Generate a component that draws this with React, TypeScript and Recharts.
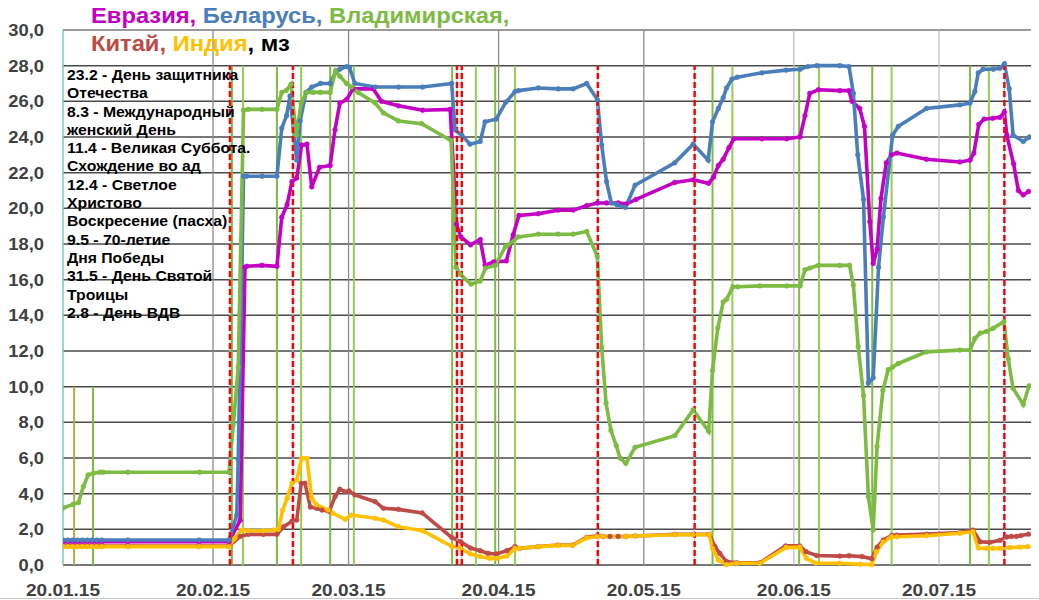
import React from 'react';
import { LineChart, Line, XAxis, YAxis, CartesianGrid, ReferenceLine } from 'recharts';

// x values are days counted from 20.01.2015
const tickDays = [0, 31, 59, 90, 120, 151, 181];
const tickLabels = ['20.01.15', '20.02.15', '20.03.15', '20.04.15', '20.05.15', '20.06.15', '20.07.15'];
const yTicks = [0, 2, 4, 6, 8, 10, 12, 14, 16, 18, 20, 22, 24, 26, 28, 30];

const eurasia: [number, number][] = [
  [0, 1.3], [1, 1.3], [2, 1.3], [3, 1.3], [4, 1.3], [5, 1.3], [6, 1.3], [7, 1.3], [8, 1.3], [13.4, 1.3], [28.1, 1.3], [34.3, 1.3],
  [36.6, 2.5], [37.6, 16.7], [38.0, 16.75], [41.1, 16.8], [44.2, 16.75], [45.2, 19.5], [46.3, 20.2], [47.3, 21.5], [48.3, 21.7],
  [49.3, 23.55], [50.4, 23.6], [51.4, 21.2], [53.0, 22.3], [55.2, 22.4], [56.2, 24.4], [57.2, 25.9], [58.6, 26.1], [59.9, 26.7],
  [64.1, 26.7], [65.8, 26.0], [69.3, 25.75], [74.3, 25.5], [80.0, 25.55], [81.3, 19.1], [82.2, 18.4], [84.2, 17.95], [86.2, 18.25],
  [87.2, 16.8], [89.0, 17.0], [91.6, 17.05], [93.0, 18.5], [94.2, 19.6], [98.2, 19.7], [102.3, 19.9], [105.4, 19.9], [108.2, 20.15],
  [110.4, 20.3], [112.3, 20.3], [114.7, 20.3], [116.4, 20.25], [118.4, 20.5], [126.4, 21.45], [130.2, 21.6], [133.4, 21.4],
  [134.4, 21.75], [135.4, 22.4], [136.4, 22.75], [137.6, 23.4], [138.6, 23.9], [144.4, 23.9], [149.5, 23.9], [152.3, 24.0],
  [153.3, 25.2], [154.3, 26.45], [156.1, 26.65], [160.5, 26.6], [162.4, 26.6], [163.0, 26.0], [164.6, 25.6], [165.6, 24.6],
  [166.7, 19.25], [167.4, 16.9], [168.2, 17.7], [169.0, 20.55], [170.1, 22.55], [171.2, 23.0], [172.3, 23.1], [178.4, 22.75],
  [185.3, 22.6], [187.4, 22.7], [188.2, 23.1], [189.2, 24.7], [190.3, 25.0], [192.1, 25.05], [193.6, 25.1], [194.5, 25.4],
  [195.0, 24.1], [196.4, 22.5], [197.4, 21.0], [198.4, 20.75], [199.5, 20.95],
];

const belarus: [number, number][] = [
  [0, 1.4], [1, 1.4], [2, 1.4], [3, 1.4], [4, 1.4], [5, 1.4], [6, 1.4], [7, 1.4], [8, 1.4], [13.4, 1.4], [28.1, 1.4], [34.3, 1.4],
  [35.9, 2.8], [36.2, 5.9], [37.3, 21.8], [38.0, 21.8], [41.1, 21.8], [44.2, 21.8], [45.2, 24.5], [46.2, 25.2], [46.9, 26.3],
  [48.3, 22.7], [49.0, 24.9], [50.2, 26.5], [51.4, 26.8], [53.2, 27.0], [55.2, 27.0], [56.4, 27.7], [57.2, 27.8], [58.6, 27.95],
  [59.2, 27.9], [60.3, 27.0], [64.5, 26.8], [69.3, 26.8], [74.3, 26.8], [80.3, 27.0], [81.0, 24.4], [82.4, 24.1], [84.1, 23.6],
  [86.2, 23.75], [87.2, 24.85], [89.5, 25.0], [91.5, 25.95], [93.4, 26.55], [94.1, 26.6], [98.2, 26.75], [102.3, 26.7],
  [105.4, 26.7], [108.2, 27.0], [110.4, 26.1], [111.3, 23.55], [112.3, 21.5], [113.3, 20.3], [114.5, 20.2], [116.2, 20.05],
  [118.2, 21.3], [126.4, 22.55], [130.2, 23.6], [133.3, 22.7], [134.2, 24.85], [135.4, 25.6], [136.4, 26.2], [137.1, 26.75],
  [138.2, 27.25], [139.3, 27.35], [144.4, 27.6], [149.4, 27.75], [152.3, 27.8], [153.9, 27.95], [155.8, 28.0], [160.5, 28.0],
  [162.4, 27.95], [163.3, 26.45], [164.2, 23.0], [165.4, 20.5], [166.4, 10.2], [167.4, 10.5], [168.5, 16.7], [169.5, 19.5],
  [171.4, 24.1], [172.6, 24.6], [178.4, 25.6], [185.3, 25.8], [187.4, 25.9], [188.4, 26.55], [189.1, 27.6], [190.1, 27.8],
  [192.2, 27.8], [193.6, 27.85], [194.5, 28.1], [195.5, 26.7], [196.3, 24.1], [198.4, 23.75], [199.7, 24.0],
];

const vladimir: [number, number][] = [
  [0, 3.2], [2.1, 3.4], [3.2, 3.5], [4.2, 4.4], [5.2, 5.05], [6.3, 5.15], [7.6, 5.2], [8.3, 5.2], [13.4, 5.2], [28.2, 5.2],
  [34.3, 5.2], [35.2, 7.9], [36.2, 11.1], [37.3, 25.5], [38.3, 25.55], [41.1, 25.55], [44.2, 25.55], [45.2, 26.5], [46.1, 26.6],
  [47.1, 26.95], [48.2, 24.1], [49.2, 25.9], [50.3, 26.5], [51.7, 26.5], [53.2, 26.5], [55.2, 26.5], [56.3, 27.7], [57.2, 27.4],
  [58.6, 27.0], [59.6, 26.8], [61.0, 26.5], [64.5, 25.9], [66.2, 25.35], [69.3, 24.9], [74.1, 24.75], [80.2, 23.8], [81.2, 16.7],
  [82.1, 16.3], [84.3, 15.75], [86.2, 15.92], [87.3, 16.65], [89.3, 16.8], [91.4, 17.85], [92.0, 17.95], [94.1, 18.4],
  [98.2, 18.55], [102.3, 18.55], [105.4, 18.55], [108.2, 18.7], [110.4, 17.3], [111.3, 12.2], [112.2, 9.07], [113.2, 7.55],
  [114.3, 6.7], [115.1, 6.0], [116.3, 5.7], [118.2, 6.6], [126.4, 7.25], [130.2, 8.7], [133.4, 7.5], [134.2, 10.9], [135.3, 13.3],
  [136.4, 14.75], [137.1, 14.9], [138.4, 15.6], [139.4, 15.6], [144.0, 15.65], [149.5, 15.65], [152.3, 15.65], [153.3, 16.55],
  [154.3, 16.65], [156.1, 16.8], [160.5, 16.8], [162.5, 16.8], [163.3, 15.7], [164.3, 12.25], [165.4, 9.5], [166.4, 3.83],
  [167.4, 1.96], [168.2, 6.65], [169.4, 9.8], [170.5, 10.95], [171.4, 11.1], [172.6, 11.3], [178.4, 11.95], [185.3, 12.05],
  [187.4, 12.05], [188.4, 12.7], [189.5, 13.0], [190.8, 13.1], [192.2, 13.27], [194.4, 13.65], [195.3, 11.55], [196.3, 9.9],
  [198.4, 9.0], [199.6, 10.05],
];

const china: [number, number][] = [
  [0, 1.06], [1, 1.06], [2, 1.06], [3, 1.06], [4, 1.06], [5, 1.06], [6, 1.06], [7, 1.06], [8, 1.06], [13.4, 1.06], [28.1, 1.06], [34.3, 1.06],
  [36.6, 1.6], [38.3, 1.72], [41.4, 1.72], [44.2, 1.72], [45.6, 2.15], [47.3, 2.45], [48.3, 2.52], [49.2, 4.58], [50.0, 4.58],
  [51.1, 3.25], [52.4, 3.18], [53.5, 3.08], [55.0, 3.0], [56.2, 3.83], [57.2, 4.25], [58.3, 4.1], [59.1, 4.15], [60.3, 3.93],
  [64.5, 3.55], [66.2, 3.18], [69.3, 3.12], [74.2, 2.92], [80.3, 1.55], [82.2, 1.3], [84.2, 0.95], [86.2, 0.8], [87.8, 0.65],
  [89.5, 0.62], [91.7, 0.8], [93.4, 1.03], [94.4, 0.93], [98.2, 1.03], [102.3, 1.12], [105.3, 1.12], [108.2, 1.55], [110.3, 1.63],
  [111.6, 1.6], [113.0, 1.6], [114.7, 1.6], [116.3, 1.6], [118.2, 1.63], [126.4, 1.72], [130.2, 1.72], [133.5, 1.72],
  [134.7, 1.03], [135.7, 0.65], [137.1, 0.19], [139.2, 0.13], [144.0, 0.13], [149.3, 1.07], [152.2, 1.07], [153.5, 0.75],
  [155.7, 0.53], [160.5, 0.5], [162.4, 0.52], [165.1, 0.47], [167.1, 0.35], [168.2, 1.0], [169.5, 1.4], [171.2, 1.66],
  [172.3, 1.68], [178.4, 1.73], [185.3, 1.82], [188.0, 1.96], [189.5, 1.3], [191.5, 1.27], [193.6, 1.38], [195.0, 1.57],
  [195.9, 1.6], [197.0, 1.6], [197.9, 1.65], [199.5, 1.73],
];

const india: [number, number][] = [
  [0, 1.03], [1, 1.03], [2, 1.03], [3, 1.03], [4, 1.03], [5, 1.03], [6, 1.03], [7, 1.03], [8, 1.03], [13.4, 1.03], [28.1, 1.03],
  [34.3, 1.03], [35.5, 1.5], [36.9, 1.96], [38.3, 1.92], [41.4, 1.92], [43.5, 1.96], [44.5, 2.0], [45.4, 3.08], [46.3, 3.74],
  [47.3, 4.58], [48.3, 4.77], [49.3, 5.98], [50.4, 5.98], [51.4, 3.74], [52.4, 3.37], [54.8, 3.08], [55.8, 2.9], [58.3, 2.56],
  [59.6, 2.8], [64.5, 2.62], [66.2, 2.52], [69.3, 2.15], [74.3, 1.92], [80.3, 1.05], [82.0, 0.96], [84.1, 0.63], [86.2, 0.47],
  [88.2, 0.37], [89.6, 0.37], [91.7, 0.5], [93.4, 0.93], [94.4, 0.93], [98.2, 1.03], [102.3, 1.1], [105.3, 1.1], [108.2, 1.52],
  [110.3, 1.6], [111.6, 1.6], [116.3, 1.6], [118.2, 1.63], [126.4, 1.7], [130.2, 1.7], [133.5, 1.7], [134.2, 0.93], [135.4, 0.28],
  [137.1, 0.02], [139.2, 0.1], [144.0, 0.1], [149.4, 0.98], [152.2, 1.0], [153.6, 0.37], [155.5, 0.1], [160.5, 0.1], [164.7, 0.04],
  [167.1, 0.02], [168.1, 0.75], [169.5, 1.3], [171.2, 1.59], [172.3, 1.58], [178.4, 1.64], [185.3, 1.78], [188.0, 1.87],
  [189.1, 0.95], [190.8, 0.93], [192.2, 0.93], [193.6, 0.93], [195.7, 0.98], [197.7, 1.0], [199.4, 1.03],
];

const holidayDays = [34.5, 47.5, 81.4, 82.4, 110.5, 130.5, 194.5];
const greenMarkDays = [34.9, 37.2, 44.2, 49.2, 55.2, 60.1, 80.4, 85.3, 89.3, 93.4, 134.2, 138.3, 152.1, 156.2, 167.2, 171.2, 187.4, 191.3];
const shortMarkDays = [2.3, 6.2];

const annotationLines = [
  '23.2 - День защитника',
  'Отечества',
  '8.3 - Международный',
  'женский День',
  '11.4 - Великая Суббота.',
  'Схождение во ад',
  '12.4 - Светлое',
  'Христово',
  'Воскресение (пасха)',
  '9.5 - 70-летие',
  'Дня Победы',
  '31.5 - День Святой',
  'Троицы',
  '2.8 - День ВДВ',
];

const C_EUR = '#C400C4';
const C_BLR = '#4A7EBB';
const C_VLA = '#7DBB42';
const C_CHN = '#BE4B48';
const C_IND = '#FFC000';
const monthLineColors = ['#7CC8C0', '#8C8C8C', '#8C8C8C', '#8C8C8C', '#8C8C8C', '#BFBFBF', '#BFBFBF'];
const shortMarkColors = ['#A8B04A', '#7DBE3F'];
const FONT = '"Liberation Sans", Arial, sans-serif';

const toRows = (pts: [number, number][]) => pts.map(([d, v]) => ({ d, v }));

const series = [
  { name: 'Евразия', pts: eurasia, color: C_EUR },
  { name: 'Беларусь', pts: belarus, color: C_BLR },
  { name: 'Владимирская', pts: vladimir, color: C_VLA },
  { name: 'Китай', pts: china, color: C_CHN },
  { name: 'Индия', pts: india, color: C_IND },
];

const XTick = (props: any) => {
  const { x, y, payload } = props;
  const label = tickLabels[tickDays.indexOf(payload.value)] ?? '';
  return (
    <g transform={`translate(${x},${y}) scale(1.12,1)`}>
      <text x={0} y={0} dy="0.71em" textAnchor="middle" fill="#404040" fontSize={17} fontWeight="bold" fontFamily={FONT}>
        {label}
      </text>
    </g>
  );
};

const YTick = (props: any) => {
  const { x, y, payload } = props;
  const label = Number(payload.value).toFixed(1).replace('.', ',');
  return (
    <g transform={`translate(${x},${y}) scale(1.08,1)`}>
      <text x={0} y={0} dy="0.355em" textAnchor="end" fill="#404040" fontSize={17} fontWeight="bold" fontFamily={FONT}>
        {label}
      </text>
    </g>
  );
};

export default function App() {
  return (
    <div style={{ position: 'absolute', left: 0, top: 0, width: 1039, height: 600, background: '#fff', fontFamily: FONT }}>
      <LineChart width={1039} height={600} margin={{ top: 30, right: 8, bottom: 0, left: 0 }}>
        <CartesianGrid vertical={false} stroke="#4A4A4A" strokeWidth={1.5} />
        <XAxis
          dataKey="d"
          type="number"
          domain={[0, 200]}
          ticks={tickDays}
          axisLine={false}
          tickLine={false}
          tickSize={0}
          tickMargin={19}
          height={35}
          interval={0}
          allowDataOverflow
          tick={<XTick />}
        />
        <YAxis
          type="number"
          domain={[0, 30]}
          ticks={yTicks}
          interval={0}
          width={63}
          axisLine={false}
          tickLine={false}
          tickSize={0}
          tickMargin={19}
          tick={<YTick />}
        />
        <ReferenceLine y={30} stroke="#A6A6A6" strokeWidth={1.5} />
        {tickDays.map((d, i) => (
          <ReferenceLine key={'m' + d} x={d} stroke={monthLineColors[i]} strokeWidth={i === 0 ? 1.5 : 1.3} />
        ))}
        {shortMarkDays.map((d, i) => (
          <ReferenceLine key={'s' + d} segment={[{ x: d, y: 0 }, { x: d, y: 10 }]} stroke={shortMarkColors[i]} strokeWidth={2} />
        ))}
        {greenMarkDays.map((d, i) => (
          <ReferenceLine
            key={'g' + d}
            segment={[{ x: d, y: 0 }, { x: d, y: 28 }]}
            stroke={i % 2 === 0 ? '#7CBD42' : '#92D050'}
            strokeWidth={2}
          />
        ))}
        {series.map((s) => (
          <Line
            key={s.name}
            name={s.name}
            data={toRows(s.pts)}
            dataKey="v"
            type="linear"
            stroke={s.color}
            strokeWidth={3.6}
            dot={{ r: 2.4, fill: s.color, stroke: s.color, strokeWidth: 0.5 }}
            activeDot={false}
            isAnimationActive={false}
          />
        ))}
        {holidayDays.map((d) => (
          <ReferenceLine key={'hb' + d} segment={[{ x: d, y: 0 }, { x: d, y: 28 }]} stroke="#9DC3E6" strokeWidth={1} />
        ))}
        {holidayDays.map((d) => (
          <ReferenceLine
            key={'h' + d}
            segment={[{ x: d, y: 0 }, { x: d, y: 28 }]}
            stroke="#FF0000"
            strokeWidth={2.5}
            strokeDasharray="6 3"
          />
        ))}
      </LineChart>

      <div
        style={{
          position: 'absolute',
          left: 91,
          top: 2.4,
          fontSize: 22,
          lineHeight: '28px',
          fontWeight: 'bold',
          whiteSpace: 'nowrap',
          transform: 'scaleX(1.078)',
          transformOrigin: '0 0',
        }}
      >
        <div>
          <span style={{ color: C_EUR }}>Евразия,</span>{' '}
          <span style={{ color: C_BLR }}>Беларусь,</span>{' '}
          <span style={{ color: C_VLA }}>Владимирская,</span>
        </div>
        <div>
          <span style={{ color: C_CHN }}>Китай,</span>{' '}
          <span style={{ color: C_IND }}>Индия</span>
          <span style={{ color: '#000' }}>, мз</span>
        </div>
      </div>

      <div
        style={{
          position: 'absolute',
          left: 67,
          top: 66,
          fontSize: 14,
          lineHeight: '18.3px',
          fontWeight: 'bold',
          color: '#000',
          whiteSpace: 'nowrap',
          transform: 'scaleX(1.125)',
          transformOrigin: '0 0',
        }}
      >
        {annotationLines.map((t, i) => (
          <div key={i}>{t}</div>
        ))}
      </div>

      <div style={{ position: 'absolute', left: 0, top: 598, width: 520, height: 1, background: '#C8C8C8' }} />
      <div style={{ position: 'absolute', left: 663, top: 598, width: 376, height: 1, background: '#C8C8C8' }} />
    </div>
  );
}
